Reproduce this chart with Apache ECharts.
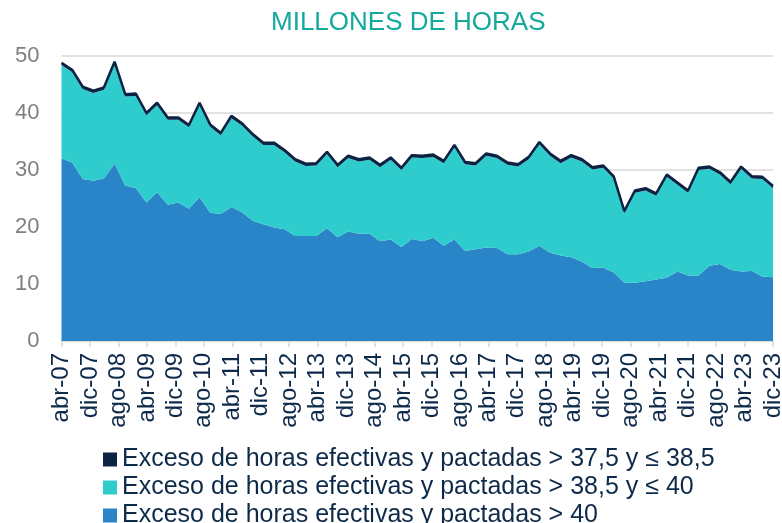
<!DOCTYPE html>
<html>
<head>
<meta charset="utf-8">
<script src="https://cdn.jsdelivr.net/npm/echarts@6/dist/echarts.min.js"></script>
<style>
  html, body { margin: 0; padding: 0; background: #fff; }
  #c { width: 782px; height: 523px; }
</style>
</head>
<body>
<div id="c"></div>
<script>
// trimestres 2007T1 - 2023T4
var trimestres = [];
for (var a = 2007; a <= 2023; a++) {
  for (var t = 1; t <= 4; t++) trimestres.push(a + 'T' + t);
}

// etiquetas del eje (cada 8 meses, abr-07 ... dic-23)
var etiquetas = ['abr-07','dic-07','ago-08','abr-09','dic-09','ago-10','abr-11','dic-11','ago-12',
  'abr-13','dic-13','ago-14','abr-15','dic-15','ago-16','abr-17','dic-17','ago-18','abr-19',
  'dic-19','ago-20','abr-21','dic-21','ago-22','abr-23','dic-23'];

// > 40
var mas40 = [32.0,31.3,28.4,28.1,28.5,31.1,27.3,26.8,24.3,26.1,23.9,24.3,23.2,25.2,22.5,22.3,
  23.5,22.6,21.1,20.5,19.9,19.6,18.4,18.4,18.4,19.8,18.2,19.2,18.8,18.8,17.5,17.8,
  16.5,17.9,17.5,18.1,16.7,17.8,15.8,16.1,16.4,16.3,15.2,15.2,15.7,16.7,15.5,15.0,
  14.7,13.9,12.8,12.9,12.0,10.2,10.2,10.5,10.8,11.1,12.2,11.5,11.5,13.2,13.5,12.5,
  12.2,12.3,11.3,11.2];

// > 38,5 y <= 40
var entre385y40 = [16.4,15.9,15.8,15.4,15.6,17.5,15.6,16.2,15.3,15.3,14.9,14.5,14.3,16.2,15.1,13.8,
  15.6,15.2,14.8,13.9,14.5,13.5,13.1,12.3,12.4,13.0,12.3,12.9,12.7,13.0,13.0,14.0,
  13.5,14.3,14.6,14.2,14.5,16.2,15.2,14.7,16.1,15.8,15.7,15.4,16.2,17.8,17.0,16.2,
  17.5,17.6,17.3,17.5,16.5,12.2,15.8,15.9,14.7,17.7,15.2,14.5,18.5,17.0,15.7,15.0,
  18.0,16.2,17.1,15.6];

// > 37,5 y <= 38,5
var entre375y385 = [0.4,0.4,0.4,0.4,0.4,0.4,0.4,0.4,0.4,0.4,0.4,0.4,0.4,0.4,0.4,0.4,
  0.4,0.4,0.4,0.4,0.4,0.4,0.4,0.4,0.4,0.4,0.4,0.4,0.4,0.4,0.4,0.4,
  0.4,0.4,0.4,0.4,0.4,0.4,0.4,0.4,0.4,0.4,0.4,0.4,0.4,0.4,0.4,0.4,
  0.4,0.4,0.4,0.4,0.4,0.4,0.4,0.4,0.4,0.4,0.4,0.4,0.4,0.4,0.4,0.4,
  0.4,0.4,0.4,0.4];

var nombres = ['Exceso de horas efectivas y pactadas > 37,5 y \u2264 38,5',
  'Exceso de horas efectivas y pactadas > 38,5 y \u2264 40',
  'Exceso de horas efectivas y pactadas > 40'];

var fuente = 'Liberation Sans, Arial, sans-serif';

// una leyenda por fila (la ultima queda cortada como en el original)
function leyenda(nombre, top) {
  return {
    data: [nombre],
    left: 103,
    top: top,
    padding: 0,
    itemWidth: 14,
    itemHeight: 14,
    icon: 'rect',
    textStyle: { color: '#0e2a4a', fontSize: 25, fontFamily: fuente }
  };
}

var myChart = echarts.init(document.getElementById('c'));
var option = {
  animation: false,
  title: {
    text: 'MILLONES DE HORAS',
    left: 266,
    top: 5,
    textStyle: { color: '#14a99d', fontSize: 26, fontWeight: 'normal', fontFamily: fuente }
  },
  grid: { left: 61.5, right: 9, top: 56, bottom: 182, outerBoundsMode: 'none' },
  legend: [leyenda(nombres[0], 447), leyenda(nombres[1], 475), leyenda(nombres[2], 503)],
  xAxis: [
    {
      type: 'category',
      data: trimestres,
      boundaryGap: false,
      show: false
    },
    {
      type: 'value',
      position: 'bottom',
      min: 0,
      max: 200,
      interval: 8,
      axisLine: { show: true, lineStyle: { color: '#d9d9d9', width: 1.5 } },
      axisTick: { show: true, length: 6, lineStyle: { color: '#d9d9d9', width: 1.5 } },
      splitLine: { show: false },
      axisLabel: {
        rotate: 90,
        margin: 12,
        color: '#0e2a4a',
        fontSize: 24,
        fontFamily: fuente,
        formatter: function (v) { return etiquetas[Math.round(v / 8)]; }
      }
    }
  ],
  yAxis: {
    type: 'value',
    min: 0,
    max: 50,
    interval: 10,
    axisLine: { show: false },
    axisTick: { show: false },
    splitLine: { lineStyle: { color: '#d9d9d9', width: 1.5 } },
    axisLabel: { color: '#7f7f7f', fontSize: 22, margin: 22, fontFamily: fuente }
  },
  series: [
    {
      name: nombres[2],
      type: 'line',
      stack: 'h',
      data: mas40,
      xAxisIndex: 0,
      showSymbol: false,
      lineStyle: { width: 0 },
      itemStyle: { color: '#2a84c8' },
      areaStyle: { color: '#2a84c8', opacity: 1 }
    },
    {
      name: nombres[1],
      type: 'line',
      stack: 'h',
      data: entre385y40,
      xAxisIndex: 0,
      showSymbol: false,
      lineStyle: { width: 0 },
      itemStyle: { color: '#2ecccc' },
      areaStyle: { color: '#2ecccc', opacity: 1 }
    },
    {
      name: nombres[0],
      type: 'line',
      stack: 'h',
      data: entre375y385,
      xAxisIndex: 0,
      showSymbol: false,
      lineStyle: { width: 2.5, color: '#0c2343' },
      itemStyle: { color: '#0c2343' },
      areaStyle: { color: '#0c2343', opacity: 1 }
    }
  ]
};
myChart.setOption(option);
window.addEventListener('resize', function () { myChart.resize(); });
</script>
</body>
</html>
